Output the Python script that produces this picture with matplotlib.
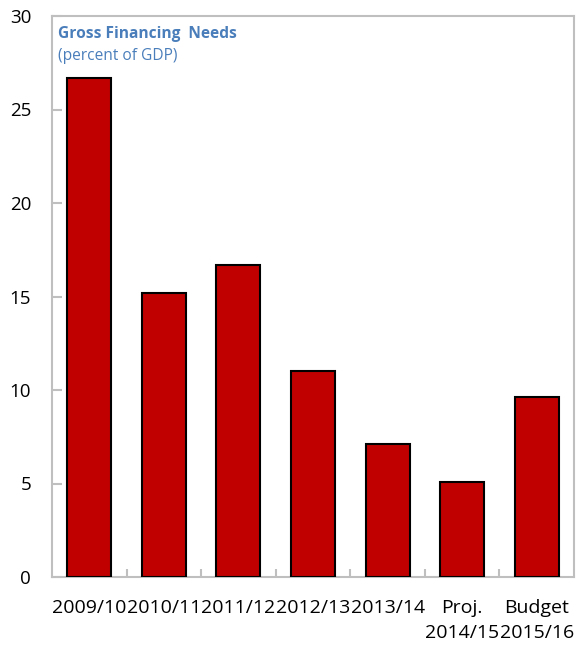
import matplotlib
matplotlib.use('Agg')
import matplotlib.pyplot as plt
import numpy as np

years = ['2009/10', '2010/11', '2011/12', '2012/13', '2013/14',
         'Proj.\n2014/15', 'Budget\n2015/16']
gfn = [26.7, 15.2, 16.7, 11.0, 7.1, 5.1, 9.6]

plt.rcParams['font.family'] = ['Open Sans', 'DejaVu Sans']

fig = plt.figure(figsize=(5.79, 6.45), dpi=100)
ax = fig.add_axes([52 / 579, 1 - 577 / 645, 522 / 579, 561 / 645])

x = np.arange(len(years))
ax.bar(x, gfn, width=0.59, color='#C00000', edgecolor='black', linewidth=1.5, zorder=3)

ax.set_xlim(-0.5, len(years) - 0.5)
ax.set_ylim(0, 30)
ax.set_yticks([0, 5, 10, 15, 20, 25, 30])

ax.set_xticks(x)
ax.set_xticklabels(years, fontsize=14, va='top', linespacing=1.45)
ax.set_xticks(np.arange(len(years) - 1) + 0.5, minor=True)
ax.tick_params(axis='x', which='major', length=0, pad=16)
ax.tick_params(axis='x', which='minor', length=6, direction='in', color='#BFBFBF', width=1.5)
ax.tick_params(axis='y', length=7, direction='in', color='#BFBFBF', width=1.5,
               labelsize=13.5, pad=15)

for s in ax.spines.values():
    s.set_color('#BFBFBF')
    s.set_linewidth(1.5)

ax.text(0.012, 0.982, 'Gross Financing  Needs', transform=ax.transAxes,
        fontsize=11.2, fontweight='bold', color='#4A7EBB', va='top', ha='left')
ax.text(0.012, 0.943, '(percent of GDP)', transform=ax.transAxes,
        fontsize=11.2, color='#4A7EBB', va='top', ha='left')

fig.savefig('out.png', dpi=100)
